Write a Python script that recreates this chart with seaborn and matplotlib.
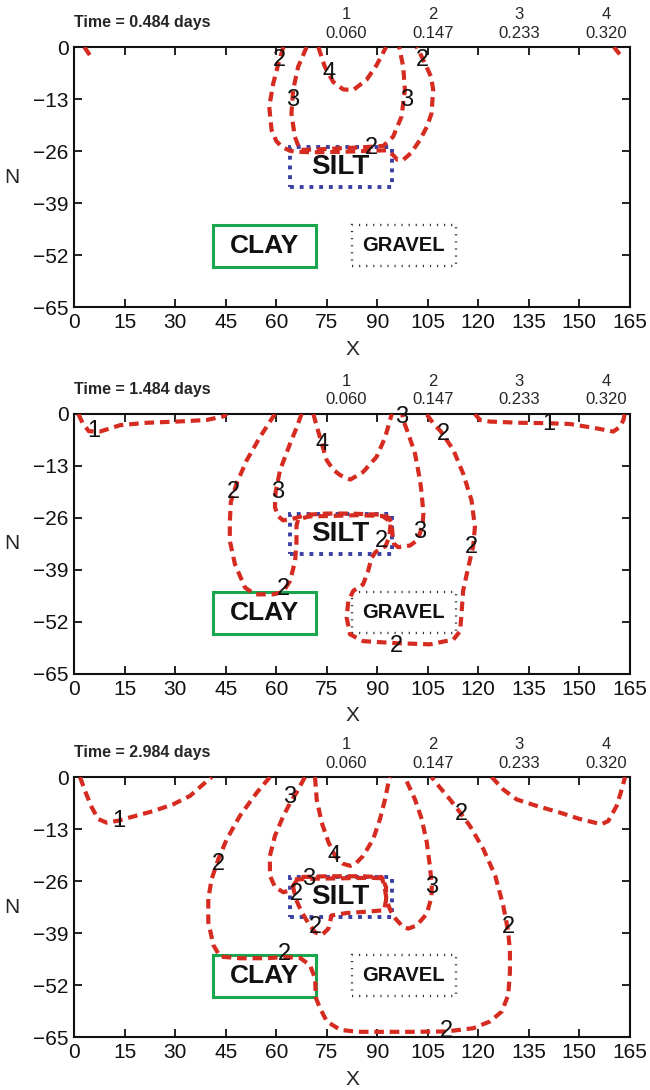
import matplotlib
matplotlib.use('Agg')
import matplotlib.pyplot as plt
from matplotlib.patches import Rectangle
import seaborn as sns

# contour level key shown above every panel
LEVEL_IDS = ['1', '2', '3', '4']
LEVEL_VALUES = ['0.060', '0.147', '0.233', '0.320']
LEVEL_X = [80.8, 106.5, 132.2, 157.9]

TIMES = ['0.484', '1.484', '2.984']

X_TICKS = list(range(0, 166, 15))
Y_TICKS = [0, -13, -26, -39, -52, -65]

# material lenses: (x0, x1, y0, y1)
SILT = (64.0, 94.3, -35.0, -25.0)
CLAY = (41.3, 71.7, -55.1, -44.6)
GRAVEL = (82.4, 113.3, -54.8, -44.6)

# ---- panel 1 (t = 0.484 d) contour lines
P1_C1A = [(3.0, 0), (4.6, -2.0)]
P1_C1B = [(160.3, 0), (162.0, -1.8)]
P1_C2 = [(62.1, 0), (60.5, -4.5), (59.1, -9.1), (57.9, -14.9), (58.6, -20.7),
         (60.0, -23.5), (61.6, -24.9), (64.0, -25.9), (66.0, -26.2), (72.0, -26.3),
         (78.9, -26.2), (86.0, -26.0), (92.8, -25.8), (94.7, -27.0), (96.0, -28.2),
         (97.7, -28.2), (100.0, -26.5), (102.7, -23.2), (104.8, -19.8), (106.1, -16.6),
         (106.6, -10.7), (106.0, -7.5), (104.6, -4.9), (103.2, -2.4), (101.7, 0)]
P1_C3 = [(69.0, 0), (66.5, -4.9), (65.0, -10.7), (64.5, -16.6), (65.5, -22.4),
         (67.0, -25.7), (72.0, -25.6), (78.9, -25.3), (85.0, -25.1), (91.8, -24.7),
         (94.7, -22.4), (97.2, -17.4), (98.2, -10.7), (97.7, -4.9), (96.5, 0)]
P1_C4 = [(72.5, 0), (74.4, -4.9), (76.9, -8.7), (79.9, -10.6), (82.9, -10.7),
         (86.8, -8.2), (89.8, -4.5), (92.6, 0)]
P1_LABELS = [('2', 60.9, -3.2), ('2', 103.5, -3.2), ('3', 65.0, -13.2), ('3', 98.7, -13.2),
             ('4', 75.7, -6.6), ('2', 88.3, -25.3)]

# ---- panel 2 (t = 1.484 d)
P2_C1A = [(1.2, 0), (2.5, -2.3), (4.3, -4.3), (7.6, -4.4), (13.6, -2.8), (21.5, -2.2),
          (30.4, -1.9), (39.3, -1.5), (44.3, -0.6), (45.3, 0)]
P2_C1B = [(119.0, 0), (120.5, -1.5), (123.5, -1.9), (132.4, -2.2), (140.3, -2.3),
          (147.2, -2.5), (155.2, -3.6), (160.1, -4.4), (162.1, -3.2), (163.1, -1.5),
          (163.5, 0)]
P2_C2 = [(59.6, 0), (55.2, -5.7), (51.2, -11.6), (48.2, -17.4), (46.5, -22.0),
         (46.2, -27.0), (46.2, -31.7), (47.7, -37.5), (50.7, -43.4), (53.7, -45.1),
         (59.1, -45.1), (62.0, -44.5), (64.1, -41.7), (65.6, -36.7), (66.0, -32.0),
         (66.0, -28.0), (66.5, -26.3), (70.0, -25.6), (76.0, -25.5), (84.0, -25.3),
         (91.5, -25.5), (94.0, -27.0), (93.6, -30.5), (92.5, -33.0), (89.5, -34.5),
         (88.3, -36.0), (87.3, -39.2), (85.8, -42.6), (82.9, -44.2), (81.4, -46.7),
         (80.9, -50.9), (81.9, -55.1), (85.8, -56.8), (95.7, -57.3), (105.6, -57.6),
         (112.6, -56.4), (114.6, -54.3), (115.0, -50.1), (115.5, -44.2), (117.0, -38.4),
         (118.5, -33.0), (119.0, -28.3), (118.0, -21.6), (115.5, -14.9), (112.6, -9.0),
         (109.0, -4.5), (106.6, -2.3), (104.6, 0)]
P2_C3 = [(67.5, 0), (66.0, -3.5), (64.1, -7.4), (61.1, -14.1), (59.8, -19.5),
         (59.6, -23.3), (60.5, -25.5), (62.0, -26.6), (64.5, -26.3), (69.0, -25.2),
         (75.0, -24.9), (82.0, -24.9), (91.8, -25.2), (93.5, -26.0), (94.3, -27.5),
         (94.5, -30.0), (95.0, -32.5), (96.2, -33.3), (99.7, -32.9), (102.0, -31.5),
         (103.4, -28.0), (103.7, -25.0), (103.2, -20.0), (102.7, -16.6), (101.2, -9.9),
         (99.2, -4.9), (97.7, -1.5), (97.4, 0)]
P2_C4 = [(71.0, 0), (72.0, -3.0), (73.5, -7.4), (75.0, -11.6), (77.0, -14.0),
         (79.0, -15.3), (82.0, -16.4), (85.8, -14.5), (89.8, -10.7), (92.3, -5.9),
         (93.8, -1.5), (94.3, 0)]
P2_LABELS = [('1', 5.8, -4.3), ('1', 140.8, -2.5), ('2', 47.4, -19.5), ('3', 60.3, -19.5),
             ('4', 73.5, -7.4), ('2', 62.1, -43.8), ('3', 97.2, -0.8), ('2', 109.6, -4.9),
             ('2', 91.3, -31.7), ('3', 102.7, -29.6), ('2', 118.0, -33.3), ('2', 95.7, -58.0)]

# ---- panel 3 (t = 2.984 d)
P3_C1A = [(1.7, 0), (3.2, -3.5), (5.2, -7.6), (7.1, -10.5), (9.6, -11.4), (13.1, -10.9),
          (16.5, -10.1), (23.5, -8.5), (29.4, -6.8), (34.4, -4.7), (38.3, -1.8), (40.8, 0)]
P3_C1B = [(124.0, 0), (127.4, -3.1), (131.4, -5.6), (137.3, -7.2), (144.3, -8.9),
          (150.2, -10.5), (156.6, -11.8), (158.6, -11.0), (161.1, -7.2), (162.6, -3.1),
          (163.6, 0)]
P3_C2A = [(58.1, 0), (54.2, -3.9), (49.2, -9.7), (45.3, -15.5), (42.8, -20.5),
          (40.8, -25.5), (39.8, -30.4), (39.8, -36.2), (41.3, -42.0), (43.3, -44.9),
          (49.2, -45.3), (57.1, -45.3), (62.3, -45.0), (67.0, -45.2), (70.0, -47.0),
          (71.5, -50.3), (71.8, -55.3), (73.0, -57.8), (75.0, -61.1), (79.0, -63.2),
          (84.0, -63.7), (90.8, -63.7), (100.7, -63.7), (110.6, -63.6), (118.5, -62.8),
          (123.5, -61.1), (127.0, -58.6), (128.9, -54.5), (129.4, -48.7), (129.4, -43.7),
          (128.9, -38.7), (127.4, -32.1), (125.0, -24.6), (121.5, -18.0), (117.5, -12.2),
          (115.0, -9.3), (111.6, -5.6), (108.5, -2.5), (106.1, 0)]
P3_C2B = [(65.5, -25.6), (72.0, -25.4), (80.0, -25.3), (88.0, -25.2), (91.5, -25.3),
          (92.6, -27.5), (92.6, -30.8), (92.0, -33.3), (87.8, -33.6), (80.9, -34.0),
          (76.4, -34.6), (75.5, -37.9), (73.5, -39.5), (71.5, -38.8), (69.5, -36.5),
          (67.5, -33.7), (65.8, -30.5), (65.0, -27.5), (65.5, -25.6)]
P3_C3 = [(68.5, 0), (66.0, -3.9), (64.1, -6.5), (62.1, -9.7), (59.6, -14.7),
         (58.1, -19.7), (58.1, -24.6), (59.6, -27.5), (62.1, -28.8), (64.3, -28.3),
         (65.5, -26.5), (67.0, -25.0), (75.0, -24.8), (85.0, -24.8), (91.3, -25.0),
         (92.2, -27.5), (92.8, -31.0), (94.0, -33.5), (95.5, -35.5), (97.7, -37.5),
         (99.2, -37.9), (101.7, -37.1), (104.7, -34.2), (106.1, -30.0), (106.2, -27.0),
         (105.6, -22.1), (104.7, -16.3), (103.2, -10.5), (101.2, -5.6), (98.7, -1.0),
         (98.2, 0)]
P3_C4 = [(71.5, 0), (72.0, -5.6), (73.5, -11.4), (75.5, -16.3), (77.5, -19.8),
         (79.9, -21.7), (82.0, -22.2), (83.5, -21.7), (85.8, -19.7), (88.8, -15.5),
         (90.8, -10.5), (92.3, -5.6), (93.3, -1.4), (93.8, 0)]
P3_LABELS = [('1', 13.1, -10.9), ('3', 64.1, -5.1), ('2', 42.8, -21.7), ('4', 77.1, -19.7),
             ('3', 69.5, -25.4), ('2', 66.0, -29.2), ('2', 71.5, -37.5), ('2', 62.3, -44.2),
             ('3', 106.1, -27.5), ('2', 115.0, -9.3), ('2', 128.9, -37.5), ('2', 110.6, -63.6)]

PANELS = [
    (TIMES[0], [P1_C1A, P1_C1B, P1_C2, P1_C3, P1_C4], P1_LABELS),
    (TIMES[1], [P2_C1A, P2_C1B, P2_C2, P2_C3, P2_C4], P2_LABELS),
    (TIMES[2], [P3_C1A, P3_C1B, P3_C2A, P3_C2B, P3_C3, P3_C4], P3_LABELS),
]

RED = '#d62b20'
BLUE = '#3a3fa3'
GREEN = '#19a64e'

sns.set_style('ticks')
plt.rcParams['font.family'] = ['Liberation Sans', 'DejaVu Sans']

fig = plt.figure(figsize=(6.5, 10.9), dpi=100)
bottoms = [0.7183, 0.3817, 0.0486]

for (t, lines, labels), b in zip(PANELS, bottoms):
    ax = fig.add_axes([0.1143, b, 0.8546, 0.2385])

    # contour lines
    for pts in lines:
        xs = [p[0] for p in pts]
        ys = [p[1] for p in pts]
        sns.lineplot(x=xs, y=ys, ax=ax, sort=False, estimator=None, color=RED,
                     linewidth=3.0, linestyle=(0, (2.3, 1.4)), legend=False, zorder=4)

    # lenses
    ax.add_patch(Rectangle((SILT[0], SILT[2]), SILT[1] - SILT[0], SILT[3] - SILT[2],
                           fill=False, edgecolor=BLUE, linewidth=2.8,
                           linestyle=(0, (1.0, 1.5)), zorder=3))
    ax.add_patch(Rectangle((CLAY[0], CLAY[2]), CLAY[1] - CLAY[0], CLAY[3] - CLAY[2],
                           fill=False, edgecolor=GREEN, linewidth=2.2, zorder=3))
    ax.add_patch(Rectangle((GRAVEL[0], GRAVEL[2]), GRAVEL[1] - GRAVEL[0], GRAVEL[3] - GRAVEL[2],
                           fill=False, edgecolor='#333333', linewidth=1.7,
                           linestyle=(0, (0.5, 2.5)), zorder=3))
    ax.text((SILT[0] + SILT[1]) / 2, (SILT[2] + SILT[3]) / 2, 'SILT', ha='center',
            va='center', fontsize=20, fontweight='bold', color='#111111', zorder=5)
    ax.text((CLAY[0] + CLAY[1]) / 2, (CLAY[2] + CLAY[3]) / 2, 'CLAY', ha='center',
            va='center', fontsize=19, fontweight='bold', color='#111111', zorder=5)
    ax.text((GRAVEL[0] + GRAVEL[1]) / 2, (GRAVEL[2] + GRAVEL[3]) / 2, 'GRAVEL', ha='center',
            va='center', fontsize=14.5, fontweight='bold', color='#111111', zorder=5)

    # contour labels
    for txt, lx, ly in labels:
        ax.text(lx, ly, txt, ha='center', va='center', fontsize=17, color='#111111', zorder=6)

    # header
    ax.text(0, 1.096, f'Time = {t} days', transform=ax.transAxes, ha='left', va='center',
            fontsize=11.5, fontweight='bold')
    for lx, lid, val in zip(LEVEL_X, LEVEL_IDS, LEVEL_VALUES):
        ax.text(lx, 1.125, lid, transform=ax.get_xaxis_transform(), ha='center',
                va='center', fontsize=12)
        ax.text(lx, 1.054, val, transform=ax.get_xaxis_transform(), ha='center',
                va='center', fontsize=12)

    ax.set_xlim(0, 165)
    ax.set_ylim(-65, 0)
    ax.set_xticks(X_TICKS)
    ax.set_yticks(Y_TICKS)
    ax.set_yticklabels([str(v).replace('-', '\u2212') for v in Y_TICKS])
    ax.tick_params(direction='in', length=6, width=1.3, top=True, right=True,
                   labelsize=15, pad=4, colors='#111111')
    for s in ax.spines.values():
        s.set_linewidth(1.5)
        s.set_color('#111111')
    ax.set_xlabel('X', fontsize=15)
    ax.set_ylabel('N', fontsize=15, rotation=0, va='center', ha='center')
    ax.xaxis.set_label_coords(0.5, -0.125)
    ax.yaxis.set_label_coords(-0.112, 0.5)

fig.savefig('out.png', dpi=100)
plt.close(fig)
